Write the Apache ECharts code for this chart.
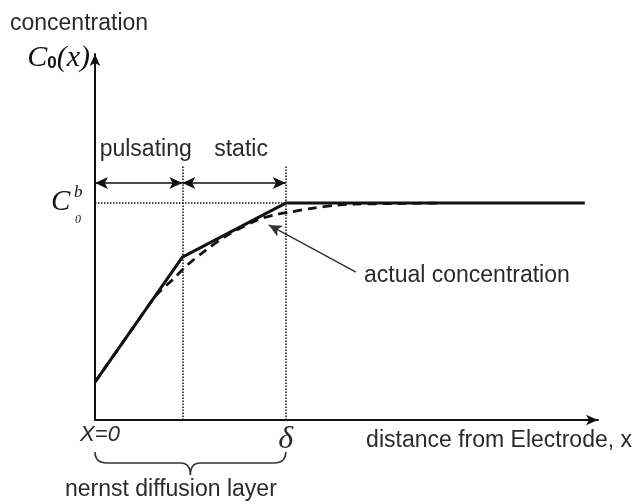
<!DOCTYPE html>
<html><head><meta charset="utf-8">
<script src="https://cdn.jsdelivr.net/npm/echarts@6/dist/echarts.min.js"></script>
<style>html,body{margin:0;padding:0;background:#fff}#c{width:635px;height:504px}</style>
</head><body><div id="c"></div>
<script>
// x in units of the diffusion layer thickness δ, y in units of bulk concentration C0^b
const xMax = 2.637;
const yMax = 1.687;
const xTickValues = [0, 1];
const xTickLabels = ['X=0', 'δ'];
// Nernst (piece-wise linear) model
const modelX = [0, 0.458, 1, 2.568];
const modelY = [0.175, 0.751, 1, 1];
// actual concentration (dashed)
const actualX = [0, 0.2, 0.32, 0.405, 0.484, 0.568, 0.70, 0.853, 0.937, 1.026, 1.147, 1.274, 1.358, 1.589, 1.80];
const actualY = [0.175, 0.425, 0.574, 0.645, 0.714, 0.774, 0.855, 0.922, 0.945, 0.959, 0.977, 0.991, 0.995, 0.998, 1.0];
// regions
const regionNames = ['pulsating', 'static'];
const regionEdges = [0, 0.458, 1];
const dimLineY = 1.092;
const guideTop = 1.175;
const bulkLevel = 1;
// annotation arrow
const annotText = 'actual concentration';
const annotTextAt = [1.41, 0.665];
const annotFrom = [1.368, 0.682];
const annotTo = [0.911, 0.899];
const layerName = 'nernst diffusion layer';

const INK = '#111';
const TXT = '#2a2a2a';
const SANS = 'Liberation Sans, Arial, sans-serif';
const SERIF = 'Liberation Serif, Times New Roman, serif';

const chart = echarts.init(document.getElementById('c'), null, {renderer: 'canvas'});

const modelData = modelX.map((x, i) => [x, modelY[i]]);
const actualData = actualX.map((x, i) => [x, actualY[i]]);

const dimLines = regionNames.map((n, i) => [
  {coord: [regionEdges[i], dimLineY], name: n},
  {coord: [regionEdges[i + 1], dimLineY]}
]);
const guideLines = [
  [{coord: [regionEdges[1], 0]}, {coord: [regionEdges[1], guideTop]}],
  [{coord: [regionEdges[2], 0]}, {coord: [regionEdges[2], guideTop]}],
  [{coord: [0, bulkLevel]}, {coord: [regionEdges[2], bulkLevel]}]
];

const option = {
  animation: false,
  title: {
    text: 'concentration', left: 5, top: 7,
    textStyle: {fontFamily: SANS, fontSize: 23, fontWeight: 'normal', color: TXT}
  },
  grid: {left: 95, right: 37, top: 54, bottom: 84},
  xAxis: {
    type: 'value', min: 0, max: xMax,
    splitLine: {show: false}, axisTick: {show: false},
    axisLine: {show: true, onZero: false, symbol: ['none', 'arrow'], symbolSize: [8, 12],
      lineStyle: {color: INK, width: 2}},
    axisLabel: {
      show: true, customValues: xTickValues, margin: 4,
      formatter: v => {
        const i = xTickValues.indexOf(v);
        return i === 0 ? '{a|' + xTickLabels[0] + '}' : '{d|' + xTickLabels[i] + '}';
      },
      rich: {
        a: {fontFamily: SANS, fontStyle: 'italic', fontSize: 22, color: TXT, padding: [0, 0, 0, 10]},
        d: {fontFamily: SERIF, fontStyle: 'italic', fontSize: 32, color: TXT}
      }
    },
    name: 'distance from Electrode, x', nameLocation: 'end', nameGap: 34,
    nameTextStyle: {fontFamily: SANS, fontSize: 23, color: TXT, align: 'right', verticalAlign: 'top', padding: [9, 0, 0, 0]}
  },
  yAxis: {
    type: 'value', min: 0, max: yMax,
    splitLine: {show: false}, axisTick: {show: false}, axisLabel: {show: false},
    axisLine: {show: true, onZero: false, symbol: ['none', 'arrow'], symbolSize: [8, 12],
      lineStyle: {color: INK, width: 2}}
  },
  graphic: [
    {type: 'text', x: 90, y: 58, style: {
      text: '{c|C}{s|0}{c|(x)}', align: 'right', verticalAlign: 'middle',
      rich: {
        c: {fontFamily: SERIF, fontStyle: 'italic', fontSize: 30, fill: INK},
        s: {fontFamily: SANS, fontWeight: 'bold', fontSize: 17, fill: INK, padding: [10, 0, 0, 0]}
      }
    }},
    {type: 'text', x: 51, y: 202, style: {text: 'C', font: 'italic 29px ' + SERIF, fill: INK, verticalAlign: 'middle'}},
    {type: 'text', x: 74, y: 193, style: {text: 'b', font: 'italic 17px ' + SERIF, fill: INK, verticalAlign: 'middle'}},
    {type: 'text', x: 75, y: 220, style: {text: '0', font: 'italic 12px ' + SERIF, fill: INK, verticalAlign: 'middle'}},
    {type: 'text', x: 65, y: 490, style: {text: layerName, font: '23px ' + SANS, fill: TXT, verticalAlign: 'middle'}}
  ],
  series: [
    {
      type: 'line', data: modelData, symbol: 'none', z: 5,
      lineStyle: {color: INK, width: 3},
      markLine: {
        silent: true, symbol: ['none', 'none'],
        lineStyle: {color: INK, width: 1.5, type: 'dotted'},
        label: {show: false},
        data: guideLines
      }
    },
    {
      type: 'line', data: actualData, symbol: 'none', smooth: 0.3, z: 4,
      lineStyle: {color: INK, width: 2.8, type: [9, 6]},
      markLine: {
        silent: true, symbol: ['arrow', 'arrow'], symbolSize: [9, 13],
        lineStyle: {color: INK, width: 1.5, type: 'solid'},
        label: {show: true, position: 'insideMiddleTop', distance: 22, formatter: p => p.name,
          fontFamily: SANS, fontSize: 23, color: TXT, padding: [0, 0, 0, 14]},
        data: dimLines
      }
    },
    {
      type: 'line', data: [], symbol: 'none',
      markLine: {
        silent: true, symbol: ['none', 'arrow'], symbolSize: [9, 13],
        lineStyle: {color: '#333', width: 1.5, type: 'solid'},
        label: {show: false},
        data: [[{coord: annotFrom}, {coord: annotTo}]]
      },
      markPoint: {
        silent: true, symbol: 'circle', symbolSize: 0,
        label: {show: true, position: 'right', distance: 0, formatter: annotText,
          fontFamily: SANS, fontSize: 23, color: TXT},
        data: [{coord: annotTextAt}]
      }
    },
    {
      type: 'custom', clip: false, silent: true,
      data: [[regionEdges[0], regionEdges[2]]],
      renderItem: (params, api) => {
        const a = api.coord([api.value(0), 0]);
        const b = api.coord([api.value(1), 0]);
        const x0 = a[0], x1 = b[0], xm = (x0 + x1) / 2;
        const y0 = a[1] + 32, y1 = y0 + 11, y2 = y1 + 12;
        const d = `M${x0},${y0} Q${x0},${y1} ${x0 + 12},${y1} L${xm - 10},${y1} Q${xm},${y1} ${xm},${y2} ` +
                  `Q${xm},${y1} ${xm + 10},${y1} L${x1 - 12},${y1} Q${x1},${y1} ${x1},${y0}`;
        return {type: 'path', shape: {pathData: d}, style: {fill: 'none', stroke: '#333', lineWidth: 1.6}};
      }
    }
  ]
};
chart.setOption(option);
</script>
</body></html>
